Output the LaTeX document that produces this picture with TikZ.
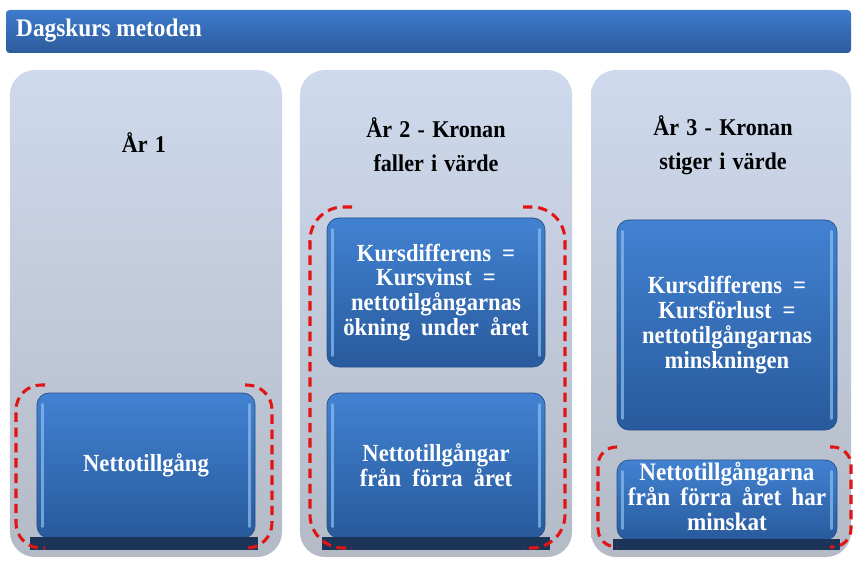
\documentclass[tikz,border=0pt]{standalone}
\usepackage{fontspec}
\setmainfont{Liberation Serif}[FakeStretch=0.92]
\usepackage{tikz}
\usetikzlibrary{positioning}

\definecolor{headtop}{RGB}{62,122,205}
\definecolor{headbot}{RGB}{44,92,156}
\definecolor{coltop}{RGB}{206,217,237}
\definecolor{colbot}{RGB}{180,187,199}
\definecolor{boxtop}{RGB}{66,130,210}
\definecolor{boxbot}{RGB}{40,90,156}
\definecolor{boxedge}{RGB}{36,80,138}
\definecolor{glintblue}{RGB}{140,192,240}
\definecolor{barnavy}{RGB}{28,52,88}
\definecolor{dashred}{RGB}{226,20,20}

\newcommand{\titlefont}{\bfseries\fontsize{20.5}{29}\selectfont\spaceskip=0.3em plus 0.1em\relax}
\newcommand{\boxfont}{\bfseries\fontsize{21}{21.3}\selectfont\spaceskip=0.45em plus 0.1em\relax}
\newcommand{\smallboxfont}{\bfseries\fontsize{21.5}{20}\selectfont\spaceskip=0.4em plus 0.1em\relax}

\begin{document}
\begin{tikzpicture}[x=0.03cm, y=-0.03cm, every node/.style={inner sep=0pt}]
      \tikzstyle{yearcol}=[rounded corners=0.75cm, top color=coltop, bottom color=colbot, minimum height=14.61cm]
      \tikzstyle{yeartitle}=[font=\titlefont, align=center, text=black]
      \tikzstyle{valuebox}=[draw=boxedge, line width=0.6pt, rounded corners=0.36cm, top color=boxtop, bottom color=boxbot, text=white, align=center, font=\boxfont]
      \tikzstyle{glint}=[glintblue, line width=2.2pt, line cap=round, opacity=0.7]
      \tikzstyle{basebar}=[fill=barnavy]
      \tikzstyle{bracket}=[dashred, line width=2.6pt, dash pattern=on 8pt off 5pt]
      \useasboundingbox (0,0) rectangle (853,562);
      \fill[white] (0,0) rectangle (853,562);

      % header
      \shade[top color=headtop, bottom color=headbot, rounded corners=3pt] (6,10) rectangle (851,53);
      \node[anchor=west, text=white, font=\bfseries\fontsize{21.6}{22}\selectfont] (header) at (16,31) {Dagskurs metoden};

      % year columns
      \node[yearcol, minimum width=8.16cm] (col1) at (146,313.5) {};
      \node[yearcol, minimum width=8.16cm] (col2) at (436,313.5) {};
      \node[yearcol, minimum width=7.8cm] (col3) at (721,313.5) {};
      \node[yeartitle] (year1) at (144,143) {År 1};
      \node[yeartitle] (year2) at (436,145) {År 2 - Kronan\\faller i värde};
      \node[yeartitle] (year3) at (723,145) {År 3 - Kronan\\stiger i värde};

      % value boxes
      \node[valuebox, minimum width=6.54cm, minimum height=4.35cm] (net1) at (146,465.5) {Nettotillgång};
      \node[valuebox, minimum width=6.54cm, minimum height=4.47cm] (diff2) at (436,292.5) {Kursdifferens =\\Kursvinst =\\nettotilgångarnas\\ökning under året};
      \node[valuebox, minimum width=6.54cm, minimum height=4.35cm] (net2) at (436,465.5) {Nettotillgångar\\från förra året};
      \node[valuebox, minimum width=6.6cm, minimum height=6.3cm] (diff3) at (727,325) {Kursdifferens =\\Kursförlust =\\nettotilgångarnas\\minskningen};
      \node[valuebox, minimum width=6.6cm, minimum height=2.4cm, font=\smallboxfont] (net3) at (727,500) {\raisebox{3pt}{\begin{tabular}{@{}c@{}}Nettotillgångarna\\från förra året har\\minskat\end{tabular}}};
      \foreach \b in {net1,diff2,net2,diff3,net3} {
        \draw[glint] ([xshift=5pt,yshift=-10pt]\b.north west) -- ([xshift=5pt,yshift=10pt]\b.south west);
        \draw[glint] ([xshift=-5pt,yshift=-10pt]\b.north east) -- ([xshift=-5pt,yshift=10pt]\b.south east);
      }

      % base bars
      \fill[basebar] (30,537) rectangle (258,550);
      \fill[basebar] (322,537) rectangle (550,550);
      \fill[basebar] (613,539) rectangle (840,550);

      % dashed brackets
      \draw[bracket, rounded corners=0.75cm] (45,385) -- (16,385) -- (16,548) -- (45,548);
      \draw[bracket, rounded corners=0.75cm] (245,385) -- (272,385) -- (272,548) -- (245,548);
      \draw[bracket, rounded corners=1cm] (352,207) -- (310,207) -- (310,548) -- (352,548);
      \draw[bracket, rounded corners=1cm] (523,207) -- (565,207) -- (565,548) -- (523,548);
      \draw[bracket, rounded corners=0.55cm] (617,447) -- (598,447) -- (598,547) -- (617,547);
      \draw[bracket, rounded corners=0.55cm] (830,447) -- (851,447) -- (851,547) -- (830,547);
    \end{tikzpicture}
\end{document}
